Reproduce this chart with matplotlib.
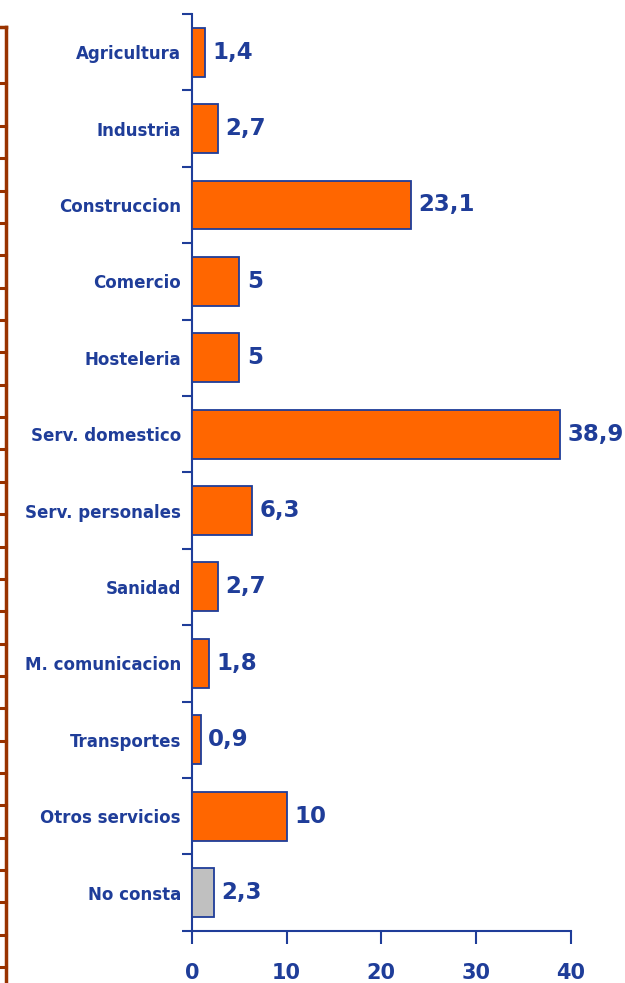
"""Reparto por sector de actividad — barras horizontales."""
import matplotlib
matplotlib.use("Agg")
import matplotlib.pyplot as plt
import numpy as np
from matplotlib.lines import Line2D

# Datos
sectores = ["Agricultura", "Industria", "Construccion", "Comercio", "Hosteleria",
            "Serv. domestico", "Serv. personales", "Sanidad", "M. comunicacion",
            "Transportes", "Otros servicios", "No consta"]
valores = [1.4, 2.7, 23.1, 5, 5, 38.9, 6.3, 2.7, 1.8, 0.9, 10, 2.3]
etiquetas = ["1,4", "2,7", "23,1", "5", "5", "38,9", "6,3", "2,7", "1,8", "0,9", "10", "2,3"]
xticks = [0, 10, 20, 30, 40]

BLUE = "#1f3d99"
ORANGE = "#ff6600"
GREY = "#c0c0c0"
BROWN = "#993300"

plt.rcParams["font.family"] = ["DejaVu Sans"]

fig = plt.figure(figsize=(6.25, 9.83), dpi=100)
ax = fig.add_axes([0.3072, 0.0532, 0.6059, 0.9326])

y = np.arange(len(sectores))
colors = [GREY if s == "No consta" else ORANGE for s in sectores]
ax.barh(y, valores, height=0.64, color=colors, edgecolor=BLUE, linewidth=1.3, zorder=3)

for yi, v, lab in zip(y, valores, etiquetas):
    ax.text(v + 0.8, yi, lab, ha="left", va="center", fontsize=16.5,
            fontweight="bold", color=BLUE)

ax.set_ylim(len(sectores) - 0.5, -0.5)
ax.set_xlim(0, 40)
ax.set_yticks(y)
ax.set_yticklabels(sectores, fontsize=12, fontweight="bold", color=BLUE)
ax.set_yticks(np.arange(-0.5, len(sectores) + 0.5, 1), minor=True)
ax.tick_params(axis="y", which="major", length=0, pad=8)
ax.tick_params(axis="y", which="minor", length=7, width=1.5, color=BLUE)

ax.set_xticks(xticks)
ax.set_xticklabels([str(t) for t in xticks], fontsize=15, fontweight="bold", color=BLUE)
ax.tick_params(axis="x", length=9, width=1.5, color=BLUE, pad=14)

for side in ["top", "right"]:
    ax.spines[side].set_visible(False)
for side in ["left", "bottom"]:
    ax.spines[side].set_color(BLUE)
    ax.spines[side].set_linewidth(1.5)

# borde marrón decorativo a la izquierda
H = 983.0
def fy(px):
    return 1 - px / H
fig.add_artist(Line2D([6 / 625, 6 / 625], [fy(27), 0], color=BROWN, lw=2.5))
fig.add_artist(Line2D([0, 6 / 625], [fy(27), fy(27)], color=BROWN, lw=2.5))
for py in [83] + list(np.arange(126, 975, 32.35)):
    fig.add_artist(Line2D([0, 6 / 625], [fy(py), fy(py)], color=BROWN, lw=2.2))

fig.savefig("out.png", dpi=100)
